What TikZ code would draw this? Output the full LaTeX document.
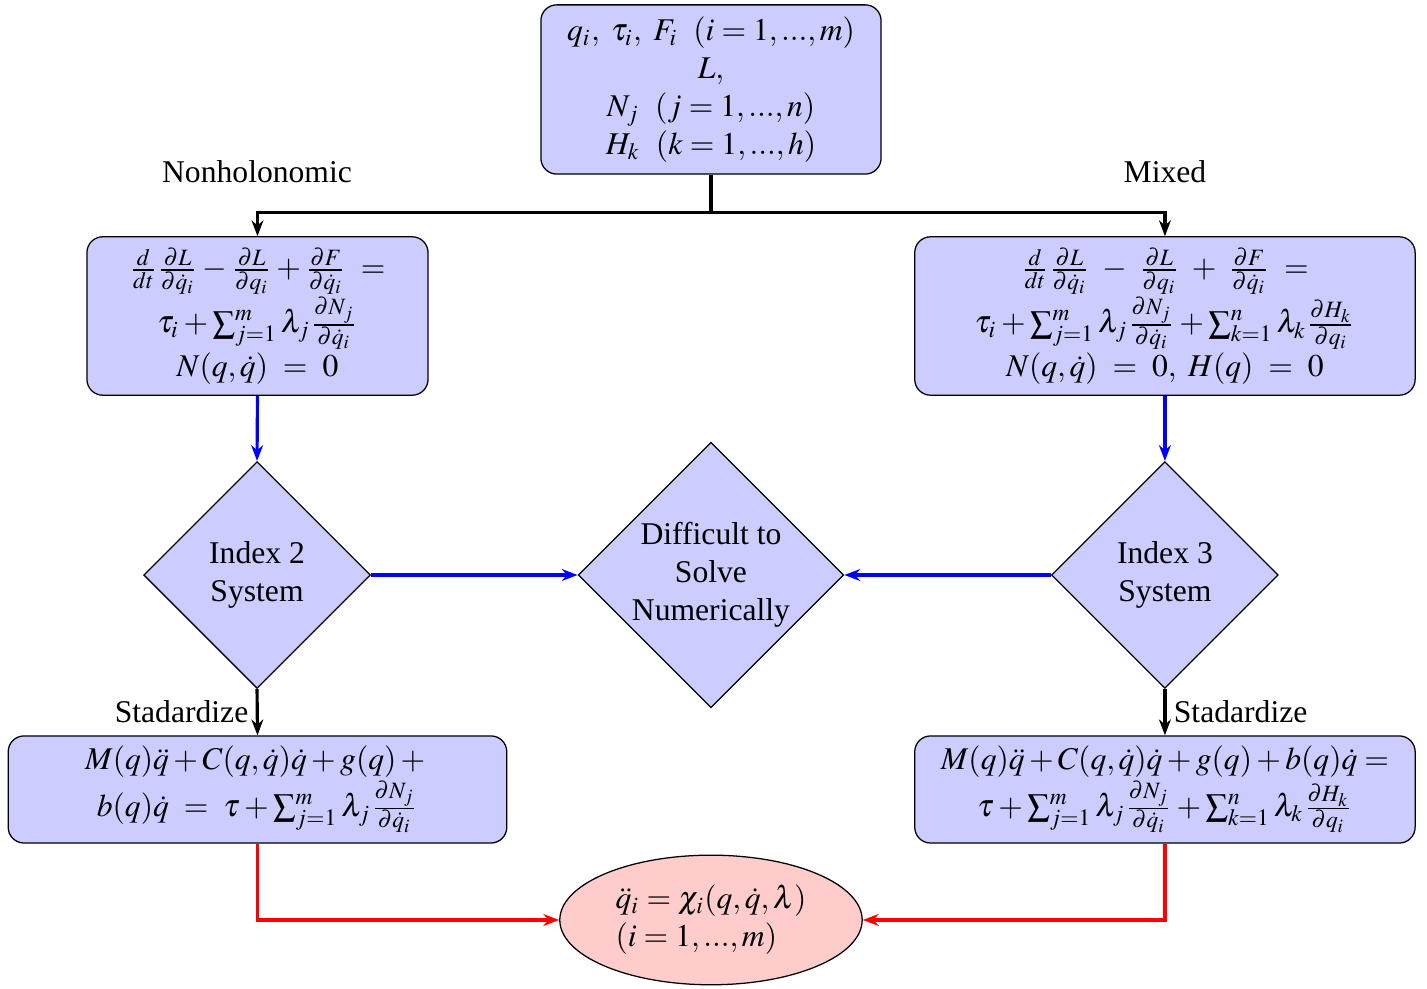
\documentclass[tikz,border=0pt]{standalone}
\usepackage{amsmath}
\usepackage{mathptmx}
\usepackage[no-math]{fontspec}
\setmainfont{Liberation Serif}
\usetikzlibrary{positioning, arrows.meta, shapes.geometric, calc}
\tikzset{
    eqbox/.style={rectangle, rounded corners=5pt, draw=black, fill=blue!20, align=center, inner sep=2pt},
    decision/.style={diamond, draw=black, fill=blue!20, align=center, inner sep=0pt, aspect=1},
    result/.style={ellipse, draw=black, fill=red!20, align=left, inner sep=0pt},
    arrblack/.style={-{Stealth[length=5pt]}, line width=1pt, color=black},
    arrblue/.style={-{Stealth[length=5pt]}, line width=1pt, color=blue},
    arrred/.style={-{Stealth[length=5pt]}, line width=1pt, color=red},
    branchlbl/.style={font=\normalsize}
}
\begin{document}
\begin{tikzpicture}
        \useasboundingbox (0,0) rectangle (15.856,-10.978);

        % Inputs
        \node[eqbox, minimum width=3.78cm, minimum height=1.88cm] (top) at (7.9,-0.994)
            {$q_i,\ \tau_i,\ F_i\ \ (i=1,...,m)$\\ $L,$\\ $N_j\ \ (j=1,...,n)$\\ $H_k\ \ (k=1,...,h)$};

        % Equations of motion
        \node[eqbox, minimum width=3.79cm, minimum height=1.76cm] (eqL) at (2.861,-3.511)
            {$\frac{d}{dt}\frac{\partial L}{\partial \dot{q}_i} - \frac{\partial L}{\partial q_i} + \frac{\partial F}{\partial \dot{q}_i}\ =$\\
             $\tau_i + \sum_{j=1}^{m}\lambda_j\frac{\partial N_j}{\partial \dot{q}_i}$\\
             $N(q,\dot{q})\ =\ 0$};
        \node[eqbox, minimum width=5.56cm, minimum height=1.76cm] (eqR) at (12.944,-3.511)
            {$\frac{d}{dt}\frac{\partial L}{\partial \dot{q}_i}\ -\ \frac{\partial L}{\partial q_i}\ +\ \frac{\partial F}{\partial \dot{q}_i}\ =$\\
             $\tau_i + \sum_{j=1}^{m}\lambda_j\frac{\partial N_j}{\partial \dot{q}_i} + \sum_{k=1}^{n}\lambda_k\frac{\partial H_k}{\partial q_i}$\\
             $N(q,\dot{q})\ =\ 0,\ H(q)\ =\ 0$};

        \node[branchlbl] (lblL) at (2.856,-1.911) {Nonholonomic};
        \node[branchlbl] (lblR) at (12.944,-1.911) {Mixed};

        % Index of the system
        \node[decision, minimum width=2.52cm, minimum height=2.52cm] (idxL) at (2.856,-6.389) {Index 2\\ System};
        \node[decision, minimum width=2.95cm, minimum height=2.95cm] (hard) at (7.9,-6.389) {Difficult to\\ Solve\\ Numerically};
        \node[decision, minimum width=2.52cm, minimum height=2.52cm] (idxR) at (12.944,-6.389) {Index 3\\ System};

        % Standard form
        \node[eqbox, minimum width=5.54cm, minimum height=1.19cm] (stdL) at (2.861,-8.772)
            {$M(q)\ddot{q} + C(q,\dot{q})\dot{q} + g(q) +{}$\\
             $b(q)\dot{q}\ =\ \tau + \sum_{j=1}^{m}\lambda_j\frac{\partial N_j}{\partial \dot{q}_i}$};
        \node[eqbox, minimum width=5.56cm, minimum height=1.19cm] (stdR) at (12.944,-8.772)
            {$M(q)\ddot{q} + C(q,\dot{q})\dot{q} + g(q) + b(q)\dot{q} =$\\
             $\tau + \sum_{j=1}^{m}\lambda_j\frac{\partial N_j}{\partial \dot{q}_i} + \sum_{k=1}^{n}\lambda_k\frac{\partial H_k}{\partial q_i}$};

        % Solution
        \node[result, minimum width=3.36cm, minimum height=1.44cm] (sol) at (7.9,-10.222)
            {$\ddot{q}_i = \chi_i(q,\dot{q},\lambda)$\\ $(i=1,...,m)$};

        % Connectors
        \draw[line width=1pt] (top.south) -- ++(0,-0.42) coordinate (split);
        \draw[arrblack] (split) -| (eqL.north);
        \draw[arrblack] (split) -| (eqR.north);

        \draw[arrblue] (eqL.south) -- (idxL.north);
        \draw[arrblue] (eqR.south) -- (idxR.north);
        \draw[arrblue] (idxL.east) -- (hard.west);
        \draw[arrblue] (idxR.west) -- (hard.east);

        \draw[arrblack] (idxL.south) -- node[left=-1pt] {Stadardize} (stdL.north);
        \draw[arrblack] (idxR.south) -- node[right=-1pt] {Stadardize} (stdR.north);

        \draw[arrred] (stdL.south) |- (sol.west);
        \draw[arrred] (stdR.south) |- (sol.east);

    \end{tikzpicture}
\end{document}
